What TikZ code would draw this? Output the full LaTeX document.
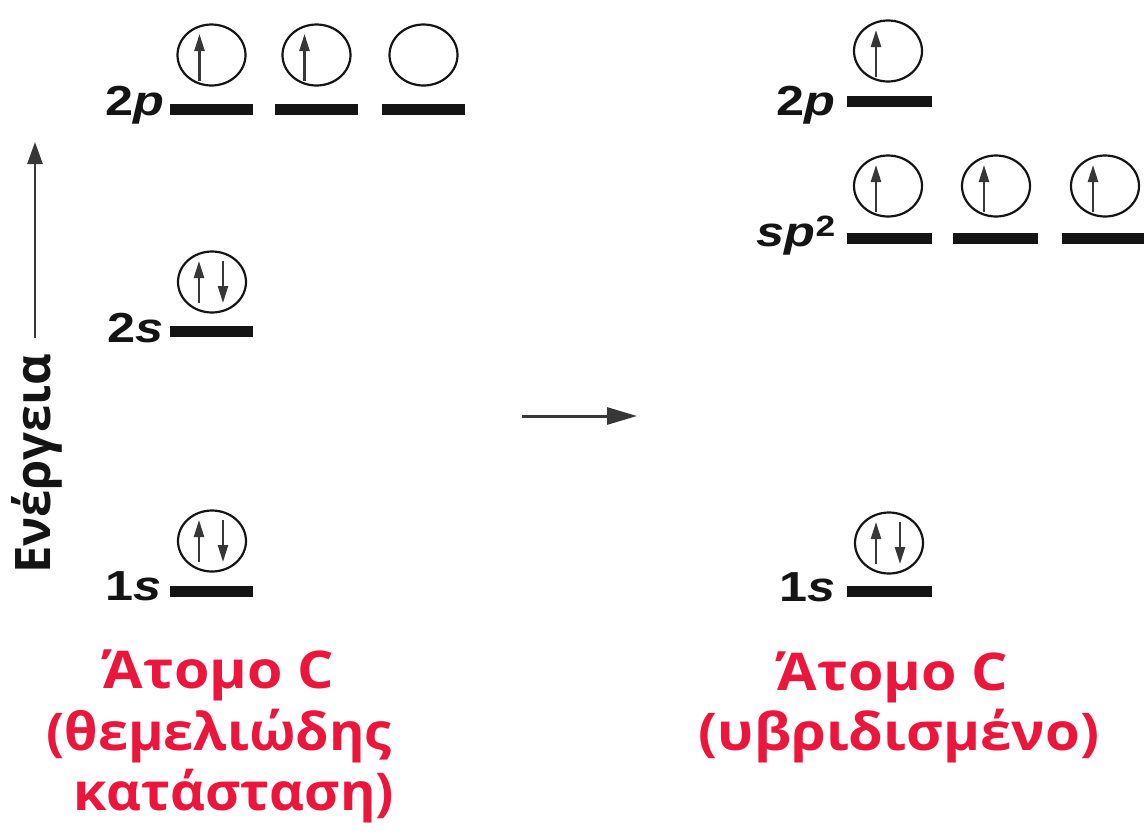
\documentclass[tikz,border=0pt]{standalone}
\usepackage{fontspec}
\setmainfont{Open Sans}
\newfontfamily\arialf{Liberation Sans}
\usetikzlibrary{arrows.meta,shapes.geometric}
\definecolor{redtxt}{RGB}{235,22,60}
\definecolor{ink}{RGB}{20,20,20}
\tikzset{
  bar/.style={line width=11pt, ink},
  orb/.style={draw=ink, ellipse, line width=2.2pt, minimum width=68pt, minimum height=61pt, inner sep=0pt},
  spin/.style={line width=2.4pt, ink!85, -{Triangle[length=17pt,width=10pt]}},
  lvl/.style={font=\arialf\bfseries\fontsize{42}{46}\selectfont, anchor=base east, inner sep=0pt, ink, xscale=1.2},
  title/.style={font=\bfseries\fontsize{52}{60}\selectfont, text=redtxt, anchor=base, inner sep=0pt, xscale=1.04},
  bigarrow/.style={line width=3pt, ink!85, -{Triangle[length=30pt,width=17pt]}}
}
\newcommand{\upspin}[1]{\draw[spin] ([shift={(-12,26)}]#1.center) -- ([shift={(-12,-21)}]#1.center);}
\newcommand{\pairspin}[1]{%
  \draw[spin] ([shift={(-13,21)}]#1.center) -- ([shift={(-13,-21)}]#1.center);
  \draw[spin] ([shift={(11,-21)}]#1.center) -- ([shift={(11,21)}]#1.center);}
\begin{document}
\begin{tikzpicture}[x=1pt,y=-1pt]
\useasboundingbox (0,0) rectangle (1144,833);
% ---------- left: ground state ----------
\foreach \x in {211.5,316.5,423.5} \draw[bar] (\x-41.5,109) -- (\x+41.5,109);
\draw[bar] (170,331) -- (253,331);
\draw[bar] (170,591) -- (253,591);
\node[orb] (a1) at (211.5,55) {};
\node[orb] (a2) at (316.5,55) {};
\node[orb] (a3) at (423.5,55) {};
\node[orb] (a4) at (212,282) {};
\node[orb] (a5) at (212,541) {};
\upspin{a1}\upspin{a2}
\pairspin{a4}\pairspin{a5}
\node[lvl] (l2p) at (165,115) {2\textit{p}};
\node[lvl] (l2s) at (164,342) {2\textit{s}};
\node[lvl] (l1s) at (162,600) {1\textit{s}};
% energy axis
\coordinate (e0) at (35,338);
\coordinate (e1) at (35,142);
\draw[line width=2.5pt, ink!85, -{Triangle[length=22pt,width=15pt]}] (e0) -- (e1);
\node[rotate=90, anchor=base, inner sep=0pt, font=\bfseries\fontsize{49}{54}\selectfont, ink] (en) at (50,464) {Ενέργεια};
% middle arrow
\coordinate (m0) at (522,416);
\coordinate (m1) at (637,416);
\draw[bigarrow] (m0) -- (m1);
% ---------- right: hybridised ----------
\draw[bar] (847,101) -- (932,101);
\foreach \x in {889.5,995.5,1104.5} \draw[bar] (\x-42.5,238) -- (\x+42.5,238);
\draw[bar] (847,591) -- (932,591);
\node[orb] (b1) at (888,51) {};
\node[orb] (b2) at (888,186) {};
\node[orb] (b3) at (996,186) {};
\node[orb] (b4) at (1105,186) {};
\node[orb] (b5) at (889,543) {};
\upspin{b1}\upspin{b2}\upspin{b3}\upspin{b4}
\pairspin{b5}
\node[lvl] (r2p) at (836,115) {2\textit{p}};
\node[lvl] (rsp) at (836,246) {\textit{sp}\textsuperscript{2}};
\node[lvl] (r1s) at (836,601) {1\textit{s}};
% ---------- titles ----------
\node[title, xscale=1.06] (t1) at (219,688) {Άτομο C};
\node[title] (t2) at (219,750) {(θεμελιώδης};
\node[title] (t3) at (234,810) {κατάσταση)};
\node[title, xscale=1.06] (t4) at (893,690) {Άτομο C};
\node[title, xscale=1.04] (t5) at (899,750) {(υβριδισμένο)};
\end{tikzpicture}
\end{document}
